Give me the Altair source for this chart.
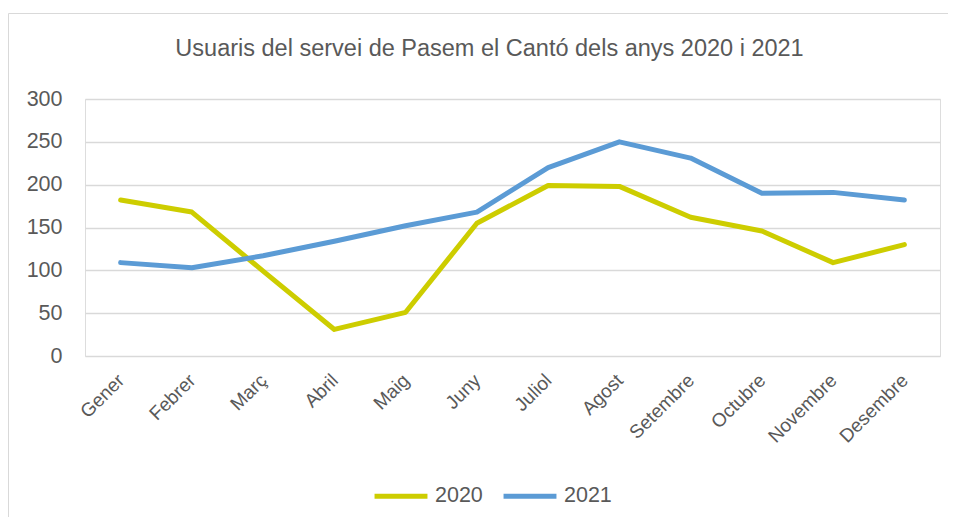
import altair as alt
import pandas as pd

months = ["Gener", "Febrer", "Març", "Abril", "Maig", "Juny", "Juliol",
          "Agost", "Setembre", "Octubre", "Novembre", "Desembre"]
v2020 = [182, 168, 99, 31, 51, 155, 199, 198, 162, 146, 109, 130]
v2021 = [109, 103, 117, 134, 152, 168, 220, 250, 231, 190, 191, 182]
series = ["2020", "2021"]
colors = ["#CDCD00", "#5B9BD5"]
y_ticks = [0, 50, 100, 150, 200, 250, 300]

rows = []
for i, m in enumerate(months):
    rows.append({"mes": m, "ordre": i, "any": "2020", "usuaris": v2020[i]})
    rows.append({"mes": m, "ordre": i, "any": "2021", "usuaris": v2021[i]})
df = pd.DataFrame(rows)

FONT = "Liberation Sans"
GREY = "#595959"

frame = alt.Chart(pd.DataFrame({"k": [0]})).mark_rect(
    fill=None, stroke="#D9D9D9", strokeWidth=1
).encode(x=alt.value(-76.5), x2=alt.value(1000), y=alt.value(-85.5), y2=alt.value(600))

lines = alt.Chart(df).mark_line(strokeWidth=5, strokeCap="round", strokeJoin="round").encode(
    x=alt.X("mes:N", sort=months, scale=alt.Scale(type="point", padding=0.5),
            axis=alt.Axis(title=None, labelAngle=-45, labelFontSize=19, labelColor=GREY,
                          labelFont=FONT, domain=False, ticks=False, labelPadding=21,
                          labelAlign="right", labelBaseline="middle")),
    y=alt.Y("usuaris:Q", scale=alt.Scale(domain=[0, 300], nice=False),
            axis=alt.Axis(title=None, values=y_ticks, labelFontSize=21.5, labelColor=GREY,
                          labelFont=FONT, domain=False, ticks=False, labelPadding=23,
                          gridColor="#D9D9D9", gridWidth=1.5)),
    color=alt.Color("any:N", scale=alt.Scale(domain=series, range=colors),
                    legend=alt.Legend(title=None, orient="none", direction="horizontal",
                                      legendX=287, legendY=368,
                                      symbolType="stroke", symbolStrokeWidth=5, symbolSize=2800,
                                      labelFontSize=21.5, labelColor=GREY, labelFont=FONT,
                                      columnPadding=10, labelOffset=5)),
    order="ordre:Q",
)

chart = alt.layer(frame, lines).properties(
    width=855,
    height=257,
    title=alt.Title("Usuaris del servei de Pasem el Cantó dels anys 2020 i 2021",
                    fontSize=23.5, font=FONT, color=GREY, fontWeight="normal",
                    anchor="middle", offset=-47, dx=-23),
    autosize=alt.AutoSizeParams(type="none"),
    padding={"left": 77, "top": 91, "right": 8, "bottom": 161},
).configure_view(stroke=None).configure(background="white")

chart.save("out.html", embed_options={"renderer": "svg", "actions": False})
